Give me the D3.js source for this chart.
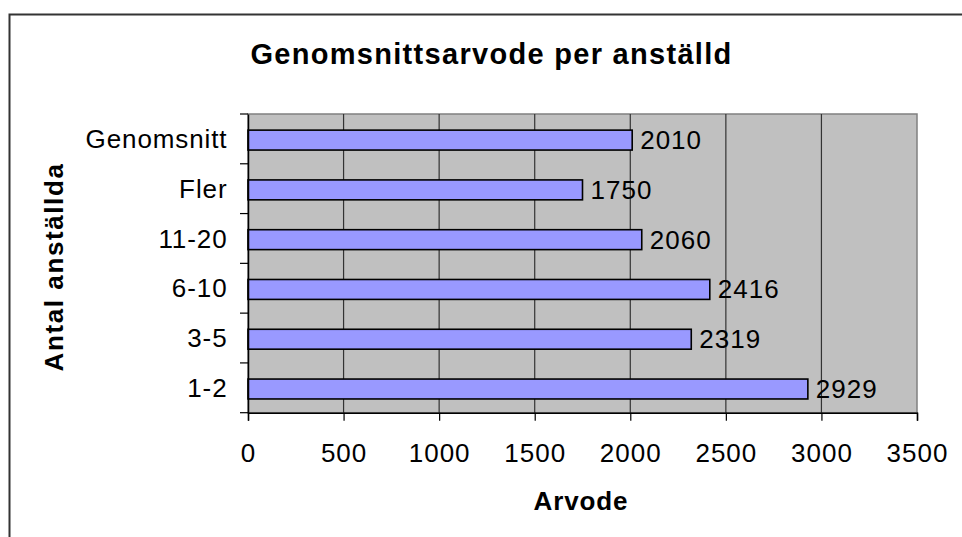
<!DOCTYPE html>
<html><head><meta charset="utf-8">
<script src="https://cdn.jsdelivr.net/npm/d3@7"></script>
<style>html,body{margin:0;padding:0;background:#fff;}svg{display:block;}</style>
</head><body>
<svg id="chart" width="962" height="537"></svg>
<script>
const categories = ["Genomsnitt", "Fler", "11-20", "6-10", "3-5", "1-2"];
const values = [2010, 1750, 2060, 2416, 2319, 2929];
const xTicks = [0, 500, 1000, 1500, 2000, 2500, 3000, 3500];
const titleText = "Genomsnittsarvode per anställd";
const xTitle = "Arvode";
const yTitle = "Antal anställda";

const svg = d3.select("#chart");
const font = "'Liberation Sans', Arial, sans-serif";
const L = 248, R = 917, T = 114, B = 412.7;

// outer frame
svg.append("path")
  .attr("d", `M9.5,537 L9.5,14.5 L962,14.5`)
  .attr("fill", "none").attr("stroke", "#333").attr("stroke-width", 2);

const x = d3.scaleLinear().domain([0, 3500]).range([L, R]);
const y = d3.scaleBand().domain(categories).range([T, B]).paddingInner(0.6).paddingOuter(0.3);

// plot area
svg.append("rect").attr("x", L).attr("y", T).attr("width", R - L).attr("height", B - T)
  .attr("fill", "#C0C0C0").attr("stroke", "#808080").attr("stroke-width", 1.5);

// gridlines
svg.append("g").selectAll("line").data(xTicks.slice(1, -1)).join("line")
  .attr("x1", d => x(d)).attr("x2", d => x(d)).attr("y1", T).attr("y2", B)
  .attr("stroke", "#333").attr("stroke-width", 1.2);

// bars
const off = 1.2;
svg.append("g").selectAll("rect").data(values).join("rect")
  .attr("x", x(0)).attr("y", (d, i) => y(categories[i]) + off)
  .attr("width", d => x(d) - x(0)).attr("height", y.bandwidth())
  .attr("fill", "#9999FF").attr("stroke", "#000").attr("stroke-width", 1.6);

// value labels
svg.append("g").selectAll("text").data(values).join("text")
  .attr("x", d => x(d) + 8).attr("y", (d, i) => y(categories[i]) + y.bandwidth() / 2 + off + 9)
  .attr("font-family", font).attr("font-size", 26).attr("letter-spacing", "1px")
  .attr("fill", "#000").text(d => d);

// x axis
const xAxis = d3.axisBottom(x).tickValues(xTicks).tickSize(8).tickPadding(22).tickFormat(d3.format("d"));
const gx = svg.append("g").attr("transform", `translate(0,${B})`).call(xAxis);
gx.select(".domain").attr("stroke", "#000").attr("stroke-width", 1.5);
gx.selectAll(".tick line").attr("stroke", "#000").attr("stroke-width", 1.2);
gx.selectAll(".tick text").attr("font-family", font).attr("font-size", 26)
  .attr("letter-spacing", "1px").attr("fill", "#000").attr("dy", null).attr("y", 49);

// y axis
const yAxis = d3.axisLeft(y).tickSize(0).tickPadding(0);
const gy = svg.append("g").attr("transform", `translate(${L},0)`).call(yAxis);
gy.select(".domain").attr("stroke", "#000").attr("stroke-width", 1.5);
gy.selectAll(".tick text").attr("font-family", font).attr("font-size", 26)
  .attr("letter-spacing", "0.9px").attr("fill", "#000")
  .attr("x", -20.5).attr("dy", null).attr("y", off + 8);
// boundary ticks
const bounds = d3.range(categories.length + 1).map(i => T + i * (B - T) / categories.length);
svg.append("g").selectAll("line").data(bounds).join("line")
  .attr("x1", L - 8).attr("x2", L).attr("y1", d => d).attr("y2", d => d)
  .attr("stroke", "#000").attr("stroke-width", 1.2);

// titles
svg.append("text").attr("x", 491.5).attr("y", 64).attr("text-anchor", "middle")
  .attr("font-family", font).attr("font-weight", "bold").attr("font-size", 29)
  .attr("letter-spacing", "1.3px").text(titleText);
svg.append("text").attr("x", 581).attr("y", 510).attr("text-anchor", "middle")
  .attr("font-family", font).attr("font-weight", "bold").attr("font-size", 26)
  .attr("letter-spacing", "0.9px").text(xTitle);
svg.append("text").attr("transform", "translate(63,267) rotate(-90)").attr("text-anchor", "middle")
  .attr("font-family", font).attr("font-weight", "bold").attr("font-size", 26)
  .attr("letter-spacing", "1.6px").text(yTitle);
</script>
</body></html>
